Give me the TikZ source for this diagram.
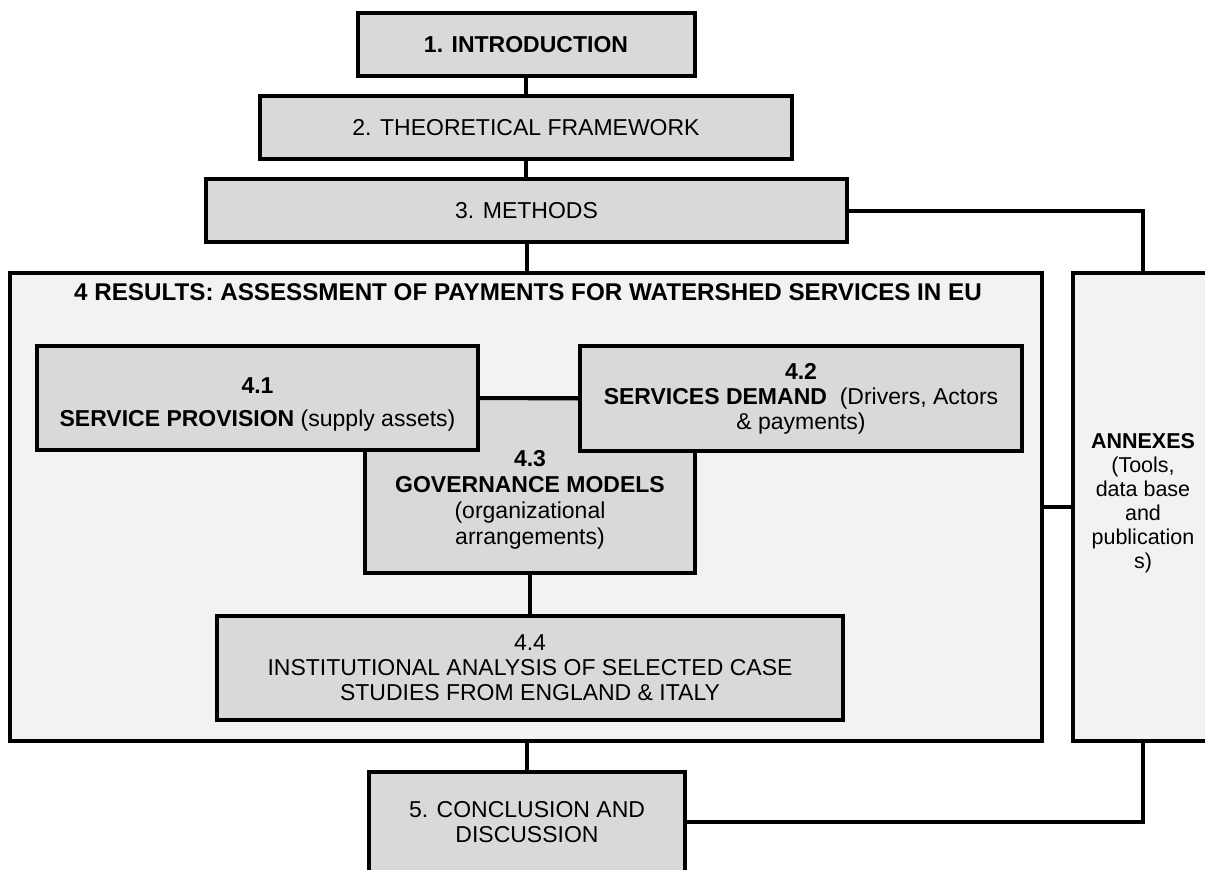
\documentclass[tikz,border=0pt]{standalone}
\usepackage{fontspec}
\setmainfont{Liberation Sans}
\definecolor{boxgray}{RGB}{217,217,217}
\definecolor{panelgray}{RGB}{242,242,242}
\tikzset{
  box/.style={draw=black, line width=4pt, fill=boxgray, inner sep=0pt,
    align=center, font=\fontsize{23}{25}\selectfont},
  panel/.style={draw=black, line width=4pt, fill=panelgray, inner sep=0pt},
  txt/.style={inner sep=0pt, align=center, font=\fontsize{23}{25}\selectfont},
  link/.style={draw=black, line width=4pt},
}
\begin{document}
\begin{tikzpicture}[x=1pt, y=-1pt]
\useasboundingbox (0,0) rectangle (1205,870);

% outer panels: results and annexes
\node[panel, minimum width=1032pt, minimum height=468pt] (results) at (526,507) {};
\node[panel, minimum width=140pt, minimum height=468pt] (annex) at (1143,507) {};
\node[txt, font=\bfseries\fontsize{24.2}{25}\selectfont] (restitle) at (528,292)
  {4 RESULTS: ASSESSMENT OF PAYMENTS FOR WATERSHED SERVICES IN EU};
\node[txt, font=\fontsize{21.5}{24}\selectfont] (annextext) at (1143,503)
  {\textbf{ANNEXES}\\(Tools,\\data base\\and\\publication\\s)};

% top chain
\node[box, minimum width=337pt, minimum height=63pt] (intro) at (526,44.5)
  {\textbf{1. INTRODUCTION}};
\node[box, minimum width=532pt, minimum height=63pt] (theory) at (526,127.5)
  {2. THEORETICAL FRAMEWORK};
\node[box, minimum width=641pt, minimum height=63pt] (methods) at (526.5,210.5)
  {3. METHODS};

% sub-sections of the results
\node[box, minimum width=330pt, minimum height=175pt] (s43) at (530,485.5) {};
\node[txt, font=\fontsize{23}{26}\selectfont] (s43text) at (530,500)
  {\textbf{4.3}\\\textbf{GOVERNANCE MODELS}\\(organizational\\arrangements)};
\node[box, minimum width=441pt, minimum height=104pt,
  label={[txt, yshift=-6pt]center:{\textbf{4.1}\\[8pt]\textbf{SERVICE PROVISION} (supply assets)}}]
  (s41) at (257.5,398) {};
\node[box, minimum width=442pt, minimum height=105pt] (s42) at (801,398.5)
  {\textbf{4.2}\\\textbf{SERVICES DEMAND}\ \ (Drivers, Actors\\\& payments)};
\node[box, minimum width=626pt, minimum height=104pt] (s44) at (530,668)
  {4.4\\INSTITUTIONAL ANALYSIS OF SELECTED CASE\\STUDIES FROM ENGLAND \& ITALY};

% conclusion
\node[box, minimum width=316pt, minimum height=100pt] (concl) at (527,822)
  {5. CONCLUSION AND\\DISCUSSION};

% connectors
\draw[link] (intro.south) -- (intro.south |- theory.north);
\draw[link] (theory.south) -- (theory.south |- methods.north);
\draw[link] (methods.south) -- (methods.south |- results.north);
\draw[link] (s41.east) -- (s42.west);
\draw[link] (s43.south) -- (s44.north);
\draw[link] (concl.north |- results.south) -- (concl.north);
\draw[link] (methods.east) -| (annex.north);
\draw[link] (results.east) -- (annex.west);
\draw[link] (annex.south) |- (concl.east);
\end{tikzpicture}
\end{document}
